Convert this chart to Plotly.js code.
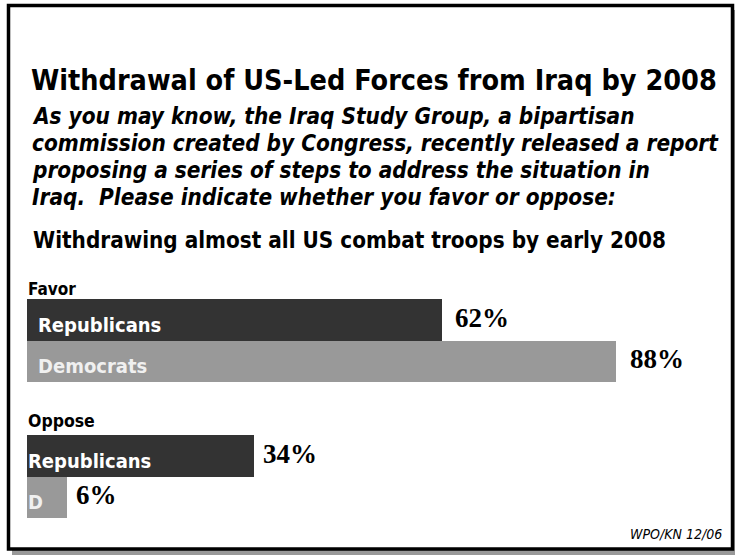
<!DOCTYPE html>
<html>
<head>
<meta charset="utf-8">
<script src="https://cdn.plot.ly/plotly-3.0.1.min.js"></script>
<style>html,body{margin:0;padding:0;background:#fff;}#chart{width:735px;height:555px;}</style>
</head>
<body>
<div id="chart"></div>
<script>
// ---- data ----
const parties = ["Republicans", "Democrats"];
const favorValues = [62, 88];
const opposeValues = [34, 6];
const favorBarLabels = ["Republicans", "Democrats"];
const opposeBarLabels = ["Republicans", "D"];
const groupLabels = ["Favor", "Oppose"];
const titleText = "Withdrawal of US-Led Forces from Iraq by 2008";
const questionLines = [
  "As you may know, the Iraq Study Group, a bipartisan",
  "commission created by Congress, recently released a report",
  "proposing a series of steps to address the situation in",
  "Iraq.  Please indicate whether you favor or oppose:"
];
const itemText = "Withdrawing almost all US combat troops by early 2008";
const sourceText = "WPO/KN 12/06";

// ---- style ----
const W = 735, H = 555;
const px = x => x / W;
const py = y => 1 - y / H;
const SANS = "DejaVu Sans Condensed, DejaVu Sans, sans-serif";
const SERIF = "Liberation Serif, DejaVu Serif, serif";
const DARK = "#333333", LIGHT = "#999999";
const partyColors = [DARK, LIGHT];
const partyTextColors = ["#ffffff", "#f0f0f0"];

const traces = [
  {type: "bar", orientation: "h", x: favorValues, y: parties, xaxis: "x", yaxis: "y",
   marker: {color: partyColors, line: {width: 0}}, hoverinfo: "skip"},
  {type: "bar", orientation: "h", x: opposeValues, y: parties, xaxis: "x", yaxis: "y2",
   marker: {color: partyColors, line: {width: 0}}, hoverinfo: "skip"}
];

const annotations = [];
function addGroup(values, labels, yref, labelShift, valueShift) {
  values.forEach((v, i) => {
    annotations.push({xref: "x", yref: yref, x: 0, y: i, xanchor: "left", yanchor: "middle",
      xshift: labelShift, yshift: -5, showarrow: false, text: labels[i],
      font: {family: SANS, size: 20, color: partyTextColors[i], weight: "bold"}});
    annotations.push({xref: "x", yref: yref, x: v, y: i, xanchor: "left", yanchor: "middle",
      xshift: valueShift, yshift: 2, showarrow: false, text: v + "%",
      font: {family: SERIF, size: 27, color: "#000", weight: "bold"}});
  });
}
addGroup(favorValues, favorBarLabels, "y", 9, 11.5);
addGroup(opposeValues, opposeBarLabels, "y2", -1, 7);

const questionY = [116, 143, 170, 197];
questionLines.forEach((line, i) => {
  annotations.push({xref: "paper", yref: "paper", x: px(30), y: py(questionY[i]), xanchor: "left", yanchor: "middle",
    align: "left", showarrow: false, text: line,
    font: {family: SANS, size: 22.4, color: "#000", weight: "bold", style: "italic"}});
});
annotations.push({xref: "paper", yref: "paper", x: px(31), y: py(240), xanchor: "left", yanchor: "middle",
  showarrow: false, text: itemText, font: {family: SANS, size: 22.3, color: "#000", weight: "bold"}});
annotations.push({xref: "paper", yref: "paper", x: px(26), y: py(289), xanchor: "left", yanchor: "middle",
  showarrow: false, text: groupLabels[0], font: {family: SANS, size: 17, color: "#000", weight: "bold"}});
annotations.push({xref: "paper", yref: "paper", x: px(26), y: py(421), xanchor: "left", yanchor: "middle",
  showarrow: false, text: groupLabels[1], font: {family: SANS, size: 17.5, color: "#000", weight: "bold"}});
annotations.push({xref: "paper", yref: "paper", x: px(724), y: py(534), xanchor: "right", yanchor: "middle",
  showarrow: false, text: sourceText, font: {family: SANS, size: 14, color: "#000", style: "italic"}});

const catAxis = {type: "category", categoryorder: "array", categoryarray: parties,
  autorange: "reversed", showticklabels: false, showgrid: false, zeroline: false,
  showline: false, ticks: "", fixedrange: true};

const layout = {
  width: W, height: H,
  margin: {l: 0, r: 0, t: 0, b: 0, pad: 0, autoexpand: false},
  paper_bgcolor: "#ffffff", plot_bgcolor: "rgba(0,0,0,0)",
  showlegend: false, bargap: 0,
  title: {text: titleText, x: px(31), xanchor: "left", xref: "paper",
    y: py(80), yanchor: "middle", yref: "paper",
    font: {family: SANS, size: 28.5, color: "#000", weight: "bold"}},
  xaxis: {range: [0, 105.75], domain: [px(26.5), 1], visible: false, fixedrange: true},
  yaxis: Object.assign({}, catAxis, {domain: [py(382), py(299)], anchor: "x"}),
  yaxis2: Object.assign({}, catAxis, {domain: [py(518), py(435)], anchor: "x"}),
  shapes: [
    {type: "rect", xref: "paper", yref: "paper", x0: px(12), x1: px(745), y0: py(560), y1: py(10),
     fillcolor: "#999999", line: {width: 0}, layer: "below"},
    {type: "rect", xref: "paper", yref: "paper", x0: px(8.5), x1: px(732.5), y0: py(549), y1: py(5.5),
     fillcolor: "#ffffff", line: {color: "#000", width: 3.5}, layer: "below"}
  ],
  annotations: annotations
};

Plotly.newPlot("chart", traces, layout, {staticPlot: true, displayModeBar: false});
</script>
</body>
</html>
